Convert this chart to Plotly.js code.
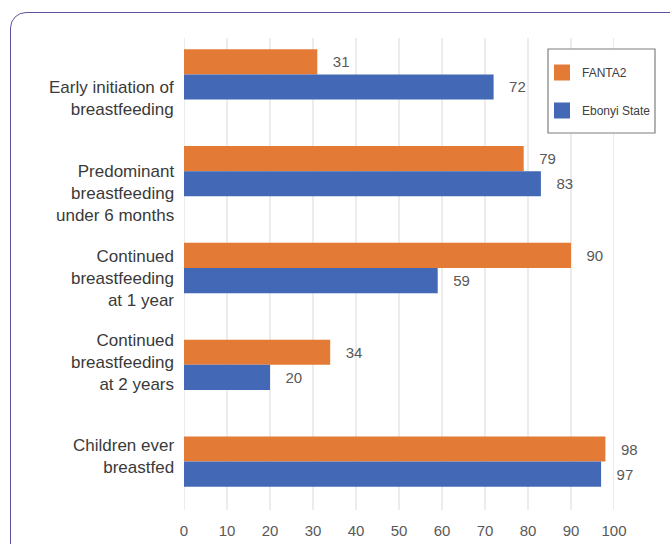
<!DOCTYPE html>
<html>
<head>
<meta charset="utf-8">
<script src="https://cdn.plot.ly/plotly-3.0.1.min.js"></script>
<style>
  html, body { margin: 0; padding: 0; background: #fff; }
  #wrap { position: relative; width: 670px; height: 544px; overflow: hidden; }
  #frame { position: absolute; left: 10px; top: 12px; width: 700px; height: 600px;
           border: 1.2px solid #5b54a3; border-radius: 16px; box-sizing: border-box; }
  #chart { position: absolute; left: 0; top: 0; width: 670px; height: 544px; }
</style>
</head>
<body>
<div id="wrap">
  <div id="frame"></div>
  <div id="chart"></div>
</div>
<script>
const categories = [
  "Early initiation of<br>breastfeeding",
  "Predominant<br>breastfeeding<br>under 6 months",
  "Continued<br>breastfeeding<br>at 1 year",
  "Continued<br>breastfeeding<br>at 2 years",
  "Children ever<br>breastfed"
];
const fanta2 = [31, 79, 90, 34, 98];
const ebonyi = [72, 83, 59, 20, 97];
const xTicks = [0, 10, 20, 30, 40, 50, 60, 70, 80, 90, 100];

// styling: vertical offset (px, downward) of each category label
const labelShift = [24, 22, 10, -2, -5];

const W = 670, H = 544;
const M = { l: 184, r: 56, t: 26, b: 34 };
const PW = W - M.l - M.r, PH = H - M.t - M.b;
const px2x = p => (p - M.l) / PW;
const px2y = p => 1 - (p - M.t) / PH;

const FONT = 'Liberation Sans, Arial, sans-serif';
const common = {
  type: 'bar', orientation: 'h', y: categories,
  textposition: 'outside', cliponaxis: false, showlegend: false,
  textfont: { family: FONT, size: 15, color: '#595959' },
  hoverinfo: 'skip'
};
const colors = { fanta: '#e37a36', ebonyi: '#4268b6' };
const traces = [
  Object.assign({}, common, { name: 'FANTA2', x: fanta2,
    marker: { color: colors.fanta }, texttemplate: '   %{x}' }),
  Object.assign({}, common, { name: 'Ebonyi State', x: ebonyi,
    marker: { color: colors.ebonyi }, texttemplate: '   %{x}' }),
  { type: 'scatter', mode: 'markers', x: [null], y: [null], name: 'FANTA2',
    legendgroup: 'a', marker: { symbol: 'square', size: 16, color: colors.fanta } },
  { type: 'scatter', mode: 'markers', x: [null], y: [null], name: 'Ebonyi State',
    legendgroup: 'b', marker: { symbol: 'square', size: 16, color: colors.ebonyi } }
];

const annotations = categories.map((c, i) => ({
  xref: 'x', yref: 'y', x: 0, y: c, text: c, showarrow: false,
  xanchor: 'right', yanchor: 'middle', align: 'right', xshift: -8, yshift: -labelShift[i],
  font: { family: FONT, size: 17, color: '#3a3a3a' }
}));

const gridShapes = xTicks.map(t => ({
  type: 'line', xref: 'x', yref: 'paper', layer: 'below',
  x0: t, x1: t, y0: 0, y1: px2y(38),
  line: { color: '#d9d9d9', width: 1 }
}));

const layout = {
  width: W, height: H,
  paper_bgcolor: 'rgba(0,0,0,0)', plot_bgcolor: 'rgba(0,0,0,0)',
  margin: { l: M.l, r: M.r, t: M.t, b: M.b, autoexpand: false },
  barmode: 'group', bargap: 0.48, bargroupgap: 0,
  showlegend: true,
  legend: {
    xref: 'paper', yref: 'paper',
    x: px2x(542), y: px2y(58),
    xanchor: 'left', yanchor: 'top',
    traceorder: 'grouped', tracegroupgap: 19,
    borderwidth: 0, bgcolor: 'rgba(0,0,0,0)',
    font: { family: FONT, size: 12, color: '#404040' }
  },
  shapes: gridShapes.concat([
    { type: 'rect', xref: 'paper', yref: 'paper', layer: 'above',
      x0: px2x(548), x1: px2x(655), y0: px2y(49), y1: px2y(133),
      line: { color: '#7f7f7f', width: 1.2 }, fillcolor: '#ffffff' }
  ]),
  annotations: annotations,
  xaxis: {
    range: [0, 100], tickvals: xTicks, ticktext: xTicks.map(String), automargin: false,
    showgrid: false,
    zeroline: false, showline: false, ticks: '',
    ticklabelstandoff: 10,
    tickfont: { family: FONT, size: 15, color: '#595959' }
  },
  yaxis: {
    type: 'category', autorange: 'reversed', automargin: false,
    showgrid: false, zeroline: false, showline: false, ticks: '',
    showticklabels: false
  }
};

Plotly.newPlot('chart', traces, layout, { displayModeBar: false, staticPlot: true });
</script>
</body>
</html>
